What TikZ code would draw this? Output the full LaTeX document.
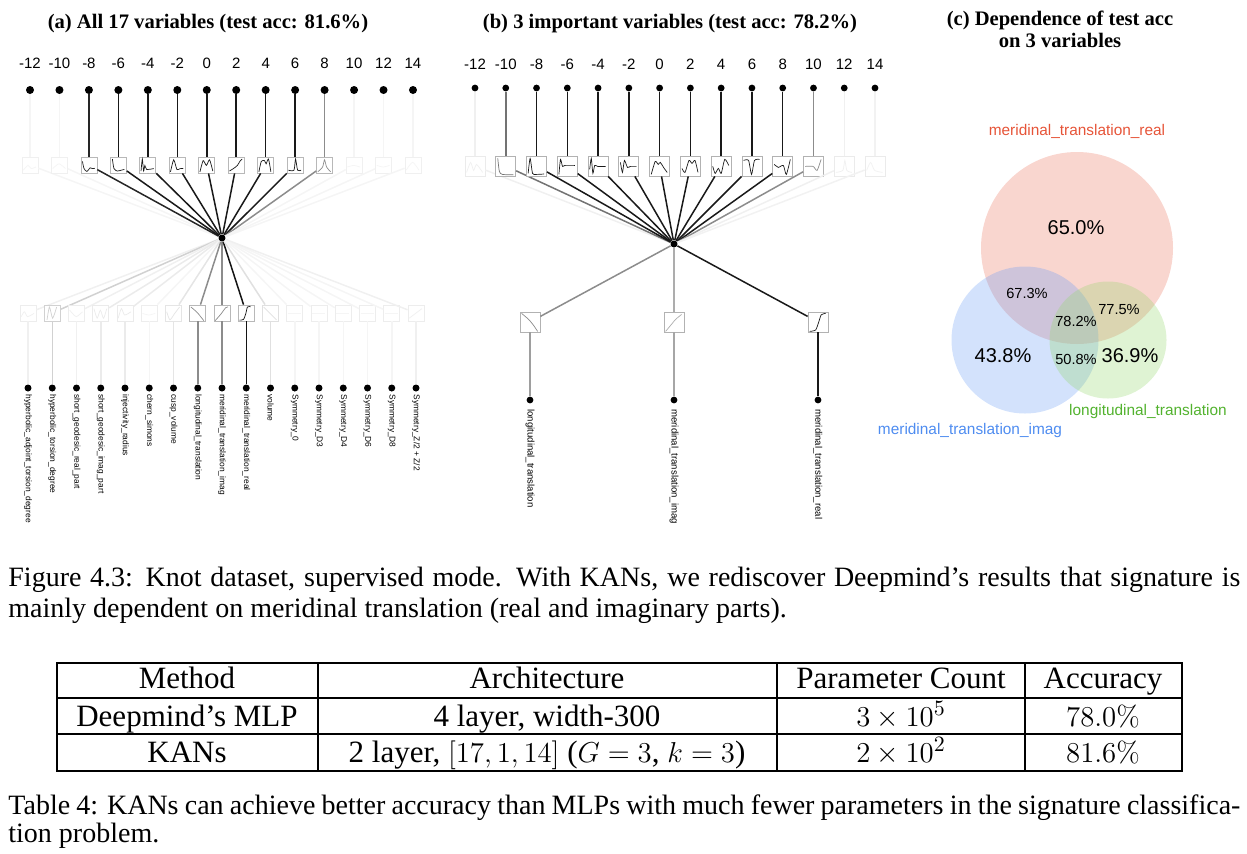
\documentclass[tikz,border=0pt]{standalone}
\usepackage[no-math]{fontspec}
\setmainfont{Liberation Serif}
\setsansfont{Liberation Sans}
\usetikzlibrary{positioning}

\definecolor{realred}{RGB}{230,84,56}
\definecolor{imagblue}{RGB}{78,140,240}
\definecolor{longgreen}{RGB}{82,178,46}
\definecolor{redfill}{RGB}{236,118,96}
\definecolor{bluefill}{RGB}{108,158,245}
\definecolor{greenfill}{RGB}{148,214,108}

% small activation curve inside a box node
\newcommand\actplot[4]{%
  \begin{scope}[shift={(#1.south west)},x=#2,y=#2]
    \draw[#3,line width=.35pt] plot[smooth,tension=.4] coordinates {#4};
  \end{scope}}

\tikzset{
  neuron/.style={circle,fill=black,inner sep=0pt,minimum size=#1},
  neuron/.default=4pt,
  actbox/.style={rectangle,fill=white,inner sep=0pt,minimum size=#1},
  wire/.style={line width=.75pt},
  ticklabel/.style={font=\sffamily\fontsize{7.5}{9}\selectfont,anchor=base,inner sep=0pt},
  varname/.style={font=\sffamily\fontsize{#1}{6}\selectfont,rotate=-90,anchor=west,inner sep=0pt},
  paneltitle/.style={font=\bfseries\fontsize{10.3}{12}\selectfont,anchor=base,inner sep=0pt},
  venn/.style={circle,inner sep=0pt,fill opacity=.3},
  vennname/.style={font=\sffamily\fontsize{7.7}{9}\selectfont,inner sep=0pt},
  bigpct/.style={font=\sffamily\fontsize{10}{12}\selectfont,inner sep=0pt},
  smallpct/.style={font=\sffamily\fontsize{7.3}{9}\selectfont,inner sep=0pt},
  capline/.style={font=\fontsize{14}{16}\selectfont,anchor=base west,inner sep=0pt},
  tabcell/.style={font=\fontsize{15.5}{18}\selectfont,anchor=base,inner sep=0pt},
}

\begin{document}
\begin{tikzpicture}[x=0.5pt,y=-0.5pt]
  \useasboundingbox (0,0) rectangle (1247,853);

  % (a) all 17 variables
  \node[paneltitle] (titleA) at (208,28) {(a) All 17 variables (test acc: 81.6\%)};
  \node[neuron=3.5pt] (hubA) at (222,238) {};
  \foreach \i/\lab/\w/\pts in {
      0/-12/4/{(.1,.2)(.4,.5)(.6,.3)(.9,.4)},
      1/-10/4/{(.1,.3)(.5,.6)(.9,.3)},
      2/-8/85/{(.12,.75)(.22,.3)(.4,.12)(.6,.35)(.75,.3)(.9,.32)},
      3/-6/90/{(.15,.9)(.25,.3)(.45,.15)(.7,.2)(.9,.25)},
      4/-4/90/{(.1,.15)(.18,.9)(.26,.15)(.34,.5)(.45,.25)(.9,.3)},
      5/-2/90/{(.1,.1)(.3,.85)(.5,.25)(.7,.3)(.9,.3)},
      6/0/90/{(.1,.1)(.3,.8)(.5,.5)(.7,.85)(.9,.15)},
      7/2/90/{(.1,.15)(.35,.3)(.6,.5)(.75,.75)(.9,.9)},
      8/4/90/{(.1,.1)(.25,.75)(.45,.8)(.55,.6)(.7,.9)(.85,.1)},
      9/6/90/{(.1,.2)(.45,.2)(.55,.9)(.68,.2)(.9,.2)},
      10/8/45/{(.1,.1)(.4,.4)(.52,.85)(.65,.4)(.9,.1)},
      11/10/4/{(.1,.4)(.5,.5)(.9,.4)},
      12/12/4/{(.1,.5)(.5,.4)(.9,.5)},
      13/14/4/{(.1,.2)(.5,.7)(.9,.2)}}{
    \pgfmathsetmacro\xx{30+29.46*\i}
    \pgfmathtruncatemacro\bw{max(6,min(\w,28))}
    \node[ticklabel] (na\i) at (\xx,68) {\lab};
    \node[neuron] (ia\i) at (\xx,90) {};
    \node[actbox=8pt,draw=black!\bw] (ba\i) at (\xx,165) {};
    \draw[wire,black!\w] (ia\i) -- (ba\i);
    \draw[wire,black!\w] (ba\i) -- (hubA);
    \edef\tmp{\noexpand\actplot{ba\i}{8pt}{black!\w}{\pts}}\tmp
  }
  \foreach \j/\vname/\w/\pts in {
      0/hyperbolic\_adjoint\_torsion\_degree/6/{(.1,.3)(.3,.6)(.5,.3)(.9,.5)},
      1/hyperbolic\_torsion\_degree/18/{(.2,.1)(.35,.9)(.55,.2)(.8,.9)},
      2/short\_geodesic\_real\_part/6/{(.1,.7)(.5,.3)(.9,.6)},
      3/short\_geodesic\_imag\_part/8/{(.1,.8)(.3,.2)(.5,.7)(.7,.2)(.9,.8)},
      4/injectivity\_radius/8/{(.1,.2)(.3,.8)(.5,.4)(.9,.6)},
      5/chern\_simons/4/{(.1,.5)(.5,.4)(.9,.5)},
      6/cusp\_volume/10/{(.1,.6)(.3,.1)(.6,.5)(.9,.9)},
      7/longitudinal\_translation/45/{(.1,.9)(.5,.55)(.9,.05)},
      8/meridinal\_translation\_imag/45/{(.1,.05)(.45,.45)(.75,.85)(.9,.9)},
      9/meridinal\_translation\_real/92/{(.1,.08)(.35,.12)(.5,.5)(.6,.9)(.8,.92)},
      10/volume/12/{(.1,.9)(.5,.5)(.9,.1)},
      11/Symmetry\_0/4/{(.1,.5)(.9,.5)},
      12/Symmetry\_D3/4/{(.1,.5)(.9,.5)},
      13/Symmetry\_D4/4/{(.1,.5)(.9,.5)},
      14/Symmetry\_D6/4/{(.1,.5)(.9,.5)},
      15/Symmetry\_D8/4/{(.1,.5)(.9,.5)},
      16/{Symmetry\_Z/2 + Z/2}/6/{(.1,.2)(.9,.8)}}{
    \pgfmathsetmacro\xx{28+24.25*\j}
    \pgfmathtruncatemacro\bw{max(7,min(\w,28))}
    \node[actbox=8pt,draw=black!\bw] (ca\j) at (\xx,313) {};
    \node[neuron=3.5pt] (oa\j) at (\xx,388) {};
    \node[varname=4.2pt] (va\j) at (\xx,394) {\vname};
    \draw[wire,black!\w] (hubA) -- (ca\j);
    \draw[wire,black!\w] (ca\j) -- (oa\j);
    \edef\tmp{\noexpand\actplot{ca\j}{8pt}{black!\w}{\pts}}\tmp
  }

  % (b) 3 important variables
  \node[paneltitle] (titleB) at (670,28) {(b) 3 important variables (test acc: 78.2\%)};
  \node[neuron=3.5pt] (hubB) at (674,244) {};
  \foreach \i/\lab/\w/\pts in {
      0/-12/6/{(.1,.2)(.3,.7)(.45,.3)(.6,.6)(.9,.2)},
      1/-10/55/{(.12,.9)(.2,.25)(.35,.1)(.9,.08)},
      2/-8/90/{(.1,.15)(.2,.9)(.32,.15)(.5,.1)(.9,.12)},
      3/-6/90/{(.1,.1)(.18,.85)(.28,.5)(.4,.55)(.9,.55)},
      4/-4/90/{(.1,.35)(.18,.9)(.26,.15)(.35,.55)(.5,.5)(.9,.5)},
      5/-2/90/{(.1,.7)(.2,.2)(.3,.8)(.45,.45)(.6,.5)(.9,.5)},
      6/0/90/{(.1,.1)(.3,.75)(.45,.6)(.55,.7)(.75,.4)(.9,.2)},
      7/2/90/{(.1,.4)(.25,.2)(.45,.8)(.6,.65)(.75,.8)(.9,.2)},
      8/4/90/{(.1,.5)(.22,.15)(.38,.4)(.52,.15)(.7,.85)(.9,.55)},
      9/6/90/{(.1,.8)(.35,.8)(.5,.1)(.65,.8)(.9,.85)},
      10/8/90/{(.1,.6)(.3,.45)(.55,.55)(.7,.1)(.9,.85)},
      11/10/45/{(.1,.5)(.5,.5)(.7,.3)(.9,.85)},
      12/12/6/{(.1,.2)(.45,.3)(.55,.8)(.65,.3)(.9,.2)},
      13/14/5/{(.1,.3)(.3,.7)(.5,.3)(.9,.2)}}{
    \pgfmathsetmacro\xx{475+30.77*\i}
    \pgfmathtruncatemacro\bw{max(8,min(\w,30))}
    \node[ticklabel] (nb\i) at (\xx,69) {\lab};
    \node[neuron=3.4pt] (ib\i) at (\xx,88) {};
    \node[actbox=10pt,draw=black!\bw] (bb\i) at (\xx,166) {};
    \draw[wire,black!\w] (ib\i) -- (bb\i);
    \draw[wire,black!\w] (bb\i) -- (hubB);
    \edef\tmp{\noexpand\actplot{bb\i}{10pt}{black!\w}{\pts}}\tmp
  }
  \foreach \k/\xx/\vname/\w/\v/\pts in {
      0/530/longitudinal\_translation/45/38/{(.1,.95)(.45,.65)(.7,.35)(.9,.05)},
      1/674/meridinal\_translation\_imag/32/35/{(.1,.05)(.35,.35)(.6,.65)(.9,.9)},
      2/818/meridinal\_translation\_real/90/90/{(.1,.05)(.4,.12)(.55,.5)(.68,.88)(.9,.95)}}{
    \pgfmathtruncatemacro\bw{max(8,min(\w,30))}
    \node[actbox=10pt,draw=black!\bw] (cb\k) at (\xx,322) {};
    \node[neuron=3.4pt] (ob\k) at (\xx,400) {};
    \node[varname=4.8pt] (vb\k) at (\xx,409) {\vname};
    \draw[wire,black!\w] (hubB) -- (cb\k);
    \draw[wire,black!\v] (cb\k) -- (ob\k);
    \edef\tmp{\noexpand\actplot{cb\k}{10pt}{black!\w}{\pts}}\tmp
  }

  % (c) Venn diagram of test accuracies
  \node[paneltitle] (titleC) at (1060,25) {(c) Dependence of test acc};
  \node[paneltitle] (titleC2) at (1060,47) {on 3 variables};
  \node[venn,fill=redfill,minimum size=96pt] (real) at (1077,248) {};
  \node[venn,fill=bluefill,minimum size=73.5pt] (imag) at (1025,340) {};
  \node[venn,fill=greenfill,minimum size=58.5pt] (long) at (1108,340) {};
  \node[vennname,text=realred] (lreal) at (1077,131) {meridinal\_translation\_real};
  \node[vennname,text=longgreen] (llong) at (1148,412) {longitudinal\_translation};
  \node[vennname,text=imagblue] (limag) at (970,431) {meridinal\_translation\_imag};
  \node[bigpct] (pr) at (1076,228) {65.0\%};
  \node[bigpct] (pi) at (1003,356) {43.8\%};
  \node[bigpct] (pl) at (1130,356) {36.9\%};
  \node[smallpct] (pri) at (1027,293) {67.3\%};
  \node[smallpct] (prl) at (1119,309) {77.5\%};
  \node[smallpct] (pall) at (1076,321) {78.2\%};
  \node[smallpct] (pil) at (1076,359) {50.8\%};

  % figure caption
  \node[capline] (cap1) at (8,586) {\makebox[616pt][s]{Figure 4.3: Knot dataset, supervised mode. With KANs, we rediscover Deepmind’s results that signature is}};
  \node[capline] (cap2) at (8,617) {mainly dependent on meridinal translation (real and imaginary parts).};

  % table
  \draw[line width=.6pt] (57,663) rectangle (1182,771);
  \draw[line width=.6pt] (57,698) -- (1182,698) (57,734) -- (1182,734)
    (318,663) -- (318,771) (777,663) -- (777,771) (1025,663) -- (1025,771);
  \node[tabcell] (h1) at (187,688) {Method};
  \node[tabcell] (h2) at (547,688) {Architecture};
  \node[tabcell] (h3) at (901,688) {Parameter Count};
  \node[tabcell] (h4) at (1103,688) {Accuracy};
  \node[tabcell] (r11) at (187,726) {Deepmind’s MLP};
  \node[tabcell] (r12) at (547,726) {4 layer, width-300};
  \node[tabcell] (r13) at (901,726) {$3\times10^5$};
  \node[tabcell] (r14) at (1103,726) {$78.0\%$};
  \node[tabcell] (r21) at (187,762) {KANs};
  \node[tabcell] (r22) at (547,762) {2 layer, $[17,1,14]$ ($G=3$, $k=3$)};
  \node[tabcell] (r23) at (901,762) {$2\times10^2$};
  \node[tabcell] (r24) at (1103,762) {$81.6\%$};

  % table caption
  \node[capline] (tcap1) at (8,814) {\makebox[616pt][s]{Table 4: KANs can achieve better accuracy than MLPs with much fewer parameters in the signature classifica-}};
  \node[capline] (tcap2) at (8,842) {tion problem.};
\end{tikzpicture}
\end{document}
